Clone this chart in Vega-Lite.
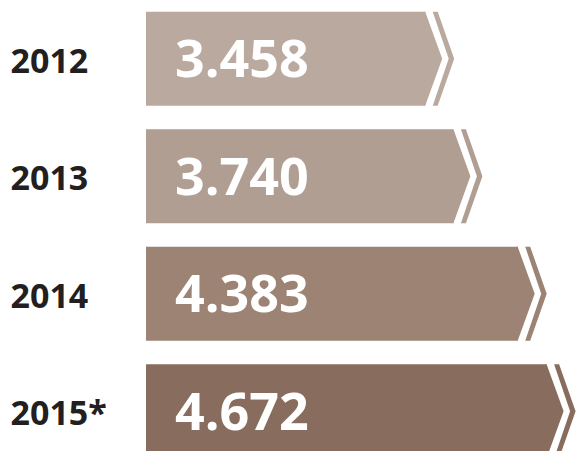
{
  "$schema": "https://vega.github.io/schema/vega-lite/v6.json",
  "width": 436,
  "height": 470,
  "padding": {"left": 10, "top": 0, "right": 0, "bottom": 0},
  "background": "white",
  "config": {
    "view": {"stroke": null},
    "locale": {"number": {"decimal": ",", "thousands": ".", "grouping": [3], "currency": ["", " €"]}}
  },
  "data": {
    "values": [
      {"year": "2012", "value": 3458},
      {"year": "2013", "value": 3740},
      {"year": "2014", "value": 4383},
      {"year": "2015*", "value": 4672}
    ]
  },
  "encoding": {
    "y": {
      "field": "year",
      "type": "nominal",
      "sort": null,
      "scale": {"paddingInner": 0.2, "paddingOuter": 0.1},
      "axis": {
        "title": null,
        "domain": false,
        "ticks": false,
        "labelAlign": "left",
        "labelPadding": 136,
        "labelBaseline": "alphabetic",
        "labelOffset": 14,
        "labelFont": "Open Sans",
        "labelFontWeight": "bold",
        "labelFontSize": 34,
        "labelColor": "#231f20"
      }
    },
    "color": {
      "field": "year",
      "type": "nominal",
      "legend": null,
      "scale": {
        "domain": ["2012", "2013", "2014", "2015*"],
        "range": ["#baa99e", "#b09e92", "#9c8374", "#886d5f"]
      }
    }
  },
  "layer": [
    {
      "mark": {"type": "bar"},
      "encoding": {
        "x": {"field": "value", "type": "quantitative", "scale": {"domain": [666, 5026], "zero": false, "nice": false}, "axis": null},
        "x2": {"datum": 666}
      }
    },
    {
      "mark": {
        "type": "point",
        "filled": true,
        "opacity": 1,
        "strokeWidth": 0,
        "size": 8836,
        "shape": "M-0.02,-1 L0,-1 L0.362,0 L0,1 L-0.02,1 Z M0.16,-1 L0.266,-1 L0.617,0 L0.266,1 L0.16,1 L0.5,0 Z"
      },
      "encoding": {
        "x": {"field": "value", "type": "quantitative"}
      }
    },
    {
      "mark": {
        "type": "text",
        "align": "left",
        "baseline": "alphabetic",
        "dx": 29,
        "dy": 18.5,
        "font": "Open Sans",
        "fontWeight": "bold",
        "fontSize": 52,
        "fill": "white"
      },
      "encoding": {
        "x": {"datum": 666},
        "text": {"field": "value", "type": "quantitative", "format": ",d"},
        "color": {"value": "white"}
      }
    }
  ]
}
